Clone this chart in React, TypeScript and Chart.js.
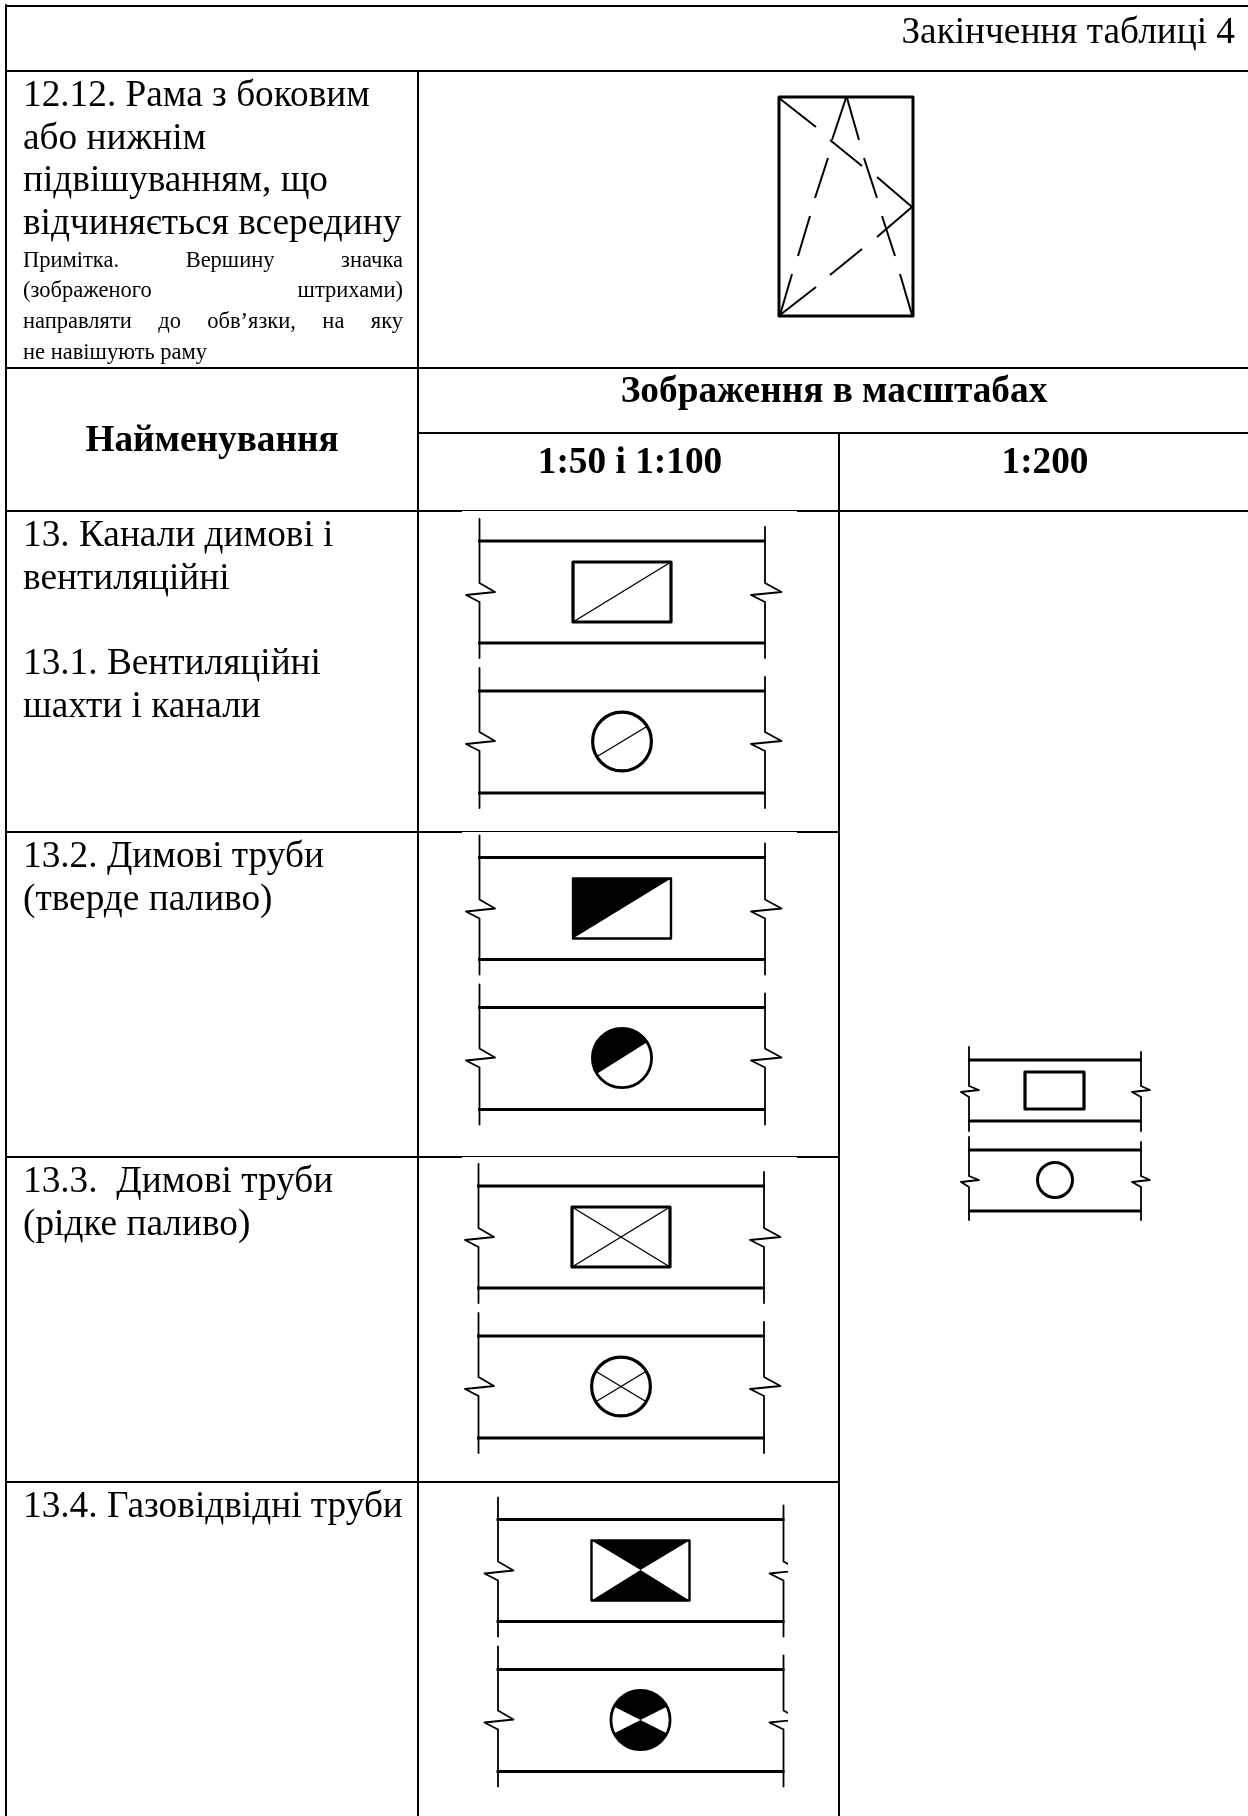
import React, { useEffect, useRef } from "react";
import { Chart, registerables } from "chart.js";

Chart.register(...registerables);

type P = [number, number];

// Table rules, in page units (x, y)
const heavyRules: P[][] = [
  [[5, 6], [1248, 6]],
  [[6, 5], [6, 1816]],
  [[5, 71], [1248, 71]],
  [[5, 368], [1248, 368]],
  [[418, 71], [418, 1816]],
  [[418, 433], [1248, 433]],
  [[839, 433], [839, 1482]],
  [[5, 511], [462, 511]],
  [[797, 511], [1248, 511]],
  [[5, 832], [462, 832]],
  [[797, 832], [839, 832]],
  [[5, 1157], [462, 1157]],
  [[797, 1157], [839, 1157]],
  [[5, 1482], [839, 1482]],
  [[839, 1482], [839, 1816]],
];
const lightRules: P[][] = [
  [[462, 510.5], [797, 510.5]],
  [[462, 831.5], [797, 831.5]],
  [[462, 1156.5], [797, 1156.5]],
];

// Window symbol 12.12
const windowFrame: P[] = [[779, 97], [913, 97], [913, 316], [779, 316], [779, 97]];
const windowDashes: P[][] = [
  [[779, 98], [816, 127]],
  [[830, 140], [862, 166]],
  [[877, 177], [912, 207]],
  [[912, 207], [877, 237]],
  [[862, 249], [830, 275]],
  [[816, 287], [780, 315]],
  [[846, 98], [832, 140]],
  [[828, 158], [815, 198]],
  [[810, 216], [798, 256]],
  [[792, 274], [780, 315]],
  [[847, 98], [859, 140]],
  [[864, 158], [877, 198]],
  [[882, 216], [895, 256]],
  [[900, 274], [912, 315]],
];

// Wall symbol (scale 1:50 and 1:100), as read on row 13.1
const wallSides: P[][] = [
  [[479.5, 519], [479.5, 583], [495, 592], [466, 595], [479.5, 602], [479.5, 658]],
  [[765, 527], [765, 583], [781.5, 592], [751, 595], [765, 602], [765, 658]],
  [[479.5, 668], [479.5, 732], [495, 741], [466, 744], [479.5, 751], [479.5, 808]],
  [[765, 677], [765, 732], [781.5, 741], [751, 744], [765, 751], [765, 808]],
];
const wallFaces: P[][] = [
  [[478, 541], [766, 541]],
  [[478, 643], [766, 643]],
  [[478, 691], [766, 691]],
  [[478, 793], [766, 793]],
];
const ductRect: P[] = [[573, 562], [671, 562], [671, 622], [573, 622], [573, 562]];
const ductCircle: P = [622, 741.5];
const ductRadius = 30;
const diagRect: P[] = [[573, 622], [671, 562]];
const diagRectBack: P[] = [[573, 562], [671, 622]];
const diagCircle: P[] = [[598, 756], [646, 727]];
const diagCircleBack: P[] = [[598, 727], [646, 756]];

// Placement of the four wall symbols
const row132: P = [0, 316.5];
const row133: P = [-1, 645];
const row134: P = [18.5, 978.5];

// Small wall symbol (scale 1:200)
const smallSides: P[][] = [
  [[969, 1047], [969, 1086], [979, 1090], [961, 1092], [969, 1097], [969, 1131]],
  [[1141, 1052], [1141, 1086], [1150, 1090], [1132, 1092], [1141, 1097], [1141, 1131]],
  [[969, 1137], [969, 1176], [979, 1180], [961, 1182], [969, 1187], [969, 1220]],
  [[1141, 1142], [1141, 1176], [1150, 1180], [1132, 1182], [1141, 1187], [1141, 1220]],
];
const smallFaces: P[][] = [
  [[968, 1060], [1142, 1060]],
  [[968, 1121], [1142, 1121]],
  [[968, 1150], [1142, 1150]],
  [[968, 1211], [1142, 1211]],
];
const smallRect: P[] = [[1025, 1072], [1084, 1072], [1084, 1109], [1025, 1109], [1025, 1072]];
const smallCircle: P = [1055, 1180];
const smallRadius = 18;

// Texts
const bodyLines: [string, number, number][] = [
  ["12.12. Рама з боковим", 23, 106],
  ["або нижнім", 23, 149],
  ["підвішуванням, що", 23, 191],
  ["відчиняється всередину", 23, 234],
  ["13. Канали димові і", 23, 546],
  ["вентиляційні", 23, 589],
  ["13.1. Вентиляційні", 23, 674],
  ["шахти і канали", 23, 717],
  ["13.2. Димові труби", 23, 867],
  ["(тверде паливо)", 23, 910],
  ["13.3.  Димові труби", 23, 1192],
  ["(рідке паливо)", 23, 1235],
  ["13.4. Газовідвідні труби", 23, 1517],
];
const noteLines: [string, number, boolean][] = [
  ["Примітка. Вершину значка", 267, true],
  ["(зображеного штрихами)", 297, true],
  ["направляти до обв’язки, на яку", 328, true],
  ["не навішують раму", 359, false],
];
const headLines: [string, number, number][] = [
  ["Зображення в масштабах", 834, 402],
  ["Найменування", 212, 451],
  ["1:50 і 1:100", 630, 473],
  ["1:200", 1045, 473],
];
const tableTitle = "Закінчення таблиці 4";

const moved = (pts: P[], d: P): P[] => pts.map(([x, y]) => [x + d[0], y + d[1]] as P);
const pairs = (pts: P[]) => pts.map(([x, y]) => ({ x, y }));

const SERIF = '"Liberation Serif"';

const fillsPlugin = {
  id: "fills",
  beforeDatasetsDraw(chart: any) {
    const { ctx, scales } = chart;
    const X = (v: number) => scales.x.getPixelForValue(v);
    const Y = (v: number) => scales.y.getPixelForValue(v);
    const poly = (pts: P[]) => {
      ctx.beginPath();
      pts.forEach(([x, y], i) => (i ? ctx.lineTo(X(x), Y(y)) : ctx.moveTo(X(x), Y(y))));
      ctx.closePath();
      ctx.fill();
    };
    const sector = (c: P, r: number, a0: number, a1: number, wedge: boolean) => {
      ctx.beginPath();
      if (wedge) ctx.moveTo(X(c[0]), Y(c[1]));
      ctx.arc(X(c[0]), Y(c[1]), X(r) - X(0), (a0 * Math.PI) / 180, (a1 * Math.PI) / 180);
      ctx.closePath();
      ctx.fill();
    };
    ctx.save();
    ctx.fillStyle = "#000";
    // 13.2: half filled
    poly(moved([[573, 562], [671, 562], [573, 622]], row132));
    sector(moved([ductCircle], row132)[0], ductRadius, 148, 328, false);
    // 13.4: two filled triangles / sectors
    poly(moved([[573, 562], [671, 562], [622, 591.5]], row134));
    poly(moved([[573, 622], [671, 622], [622, 591.5]], row134));
    const cc4 = moved([ductCircle], row134)[0];
    sector(cc4, ductRadius, 207, 333, true);
    sector(cc4, ductRadius, 27, 153, true);
    ctx.restore();
  },
};

const textPlugin = {
  id: "tableText",
  afterDatasetsDraw(chart: any) {
    const { ctx, scales } = chart;
    const X = (v: number) => scales.x.getPixelForValue(v);
    const Y = (v: number) => scales.y.getPixelForValue(v);
    ctx.save();
    ctx.fillStyle = "#000";
    ctx.textBaseline = "alphabetic";
    ctx.textAlign = "left";
    ctx.font = `37.3px ${SERIF}`;
    bodyLines.forEach(([t, x, y]) => ctx.fillText(t, X(x), Y(y)));
    ctx.textAlign = "right";
    ctx.fillText(tableTitle, X(1235), Y(43));
    ctx.textAlign = "center";
    ctx.font = `bold 37.3px ${SERIF}`;
    headLines.forEach(([t, x, y]) => ctx.fillText(t, X(x), Y(y)));
    ctx.textAlign = "left";
    ctx.font = `22.5px ${SERIF}`;
    noteLines.forEach(([t, y, justify]) => {
      ctx.wordSpacing = "0px";
      const spaces = t.split(" ").length - 1;
      const extra = justify ? (X(403) - X(23) - ctx.measureText(t).width) / spaces : 0;
      ctx.wordSpacing = `${extra}px`;
      ctx.fillText(t, X(23), Y(y));
    });
    ctx.wordSpacing = "0px";
    ctx.restore();
  },
};

function line(pts: P[], width: number, extra: object = {}) {
  return {
    data: pairs(pts),
    showLine: true,
    borderColor: "#000",
    borderWidth: width,
    pointRadius: 0,
    fill: false,
    tension: 0,
    borderJoinStyle: "round",
    borderCapStyle: "butt",
    ...extra,
  };
}

function ring(c: P, r: number, width: number) {
  return {
    data: pairs([c]),
    showLine: false,
    pointRadius: r - width / 2,
    pointBorderWidth: width,
    pointBorderColor: "#000",
    pointBackgroundColor: "rgba(0,0,0,0)",
    pointStyle: "circle",
  };
}

const clip134 = { left: false, top: false, bottom: false, right: -460 };

function wallGroup(d: P, extra: object = {}) {
  return [
    ...wallSides.map((s) => line(moved(s, d), 1.8, extra)),
    ...wallFaces.map((s) => line(moved(s, d), 3)),
  ];
}

function buildDatasets(): any[] {
  const origin: P = [0, 0];
  return [
    ...heavyRules.map((r) => line(r, 2)),
    ...lightRules.map((r) => line(r, 1)),
    line(windowFrame, 3, { borderCapStyle: "round" }),
    ...windowDashes.map((s) => line(s, 2)),
    ...wallGroup(origin),
    line(ductRect, 3.2, { borderCapStyle: "round" }),
    line(diagRect, 1.4),
    ring(ductCircle, ductRadius + 1, 3.2),
    line(diagCircle, 1.4),
    ...wallGroup(row132),
    line(moved(ductRect, row132), 2.4, { borderCapStyle: "round" }),
    ring(moved([ductCircle], row132)[0], ductRadius + 1, 2.8),
    ...wallGroup(row133),
    line(moved(ductRect, row133), 3.2, { borderCapStyle: "round" }),
    line(moved(diagRect, row133), 1.4),
    line(moved(diagRectBack, row133), 1.4),
    ring(moved([ductCircle], row133)[0], ductRadius + 1, 3.2),
    line(moved(diagCircle, row133), 1.4),
    line(moved(diagCircleBack, row133), 1.4),
    ...wallGroup(row134, { clip: clip134 }),
    line(moved(ductRect, row134), 2.4, { borderCapStyle: "round" }),
    ring(moved([ductCircle], row134)[0], ductRadius + 1, 2.8),
    ...smallSides.map((s) => line(s, 1.8)),
    ...smallFaces.map((s) => line(s, 3)),
    line(smallRect, 3.2, { borderCapStyle: "round" }),
    ring(smallCircle, smallRadius + 1, 3),
  ];
}

export default function App() {
  const ref = useRef<HTMLCanvasElement>(null);
  useEffect(() => {
    const chart = new Chart(ref.current as HTMLCanvasElement, {
      type: "scatter",
      data: { datasets: buildDatasets() },
      options: {
        animation: false,
        responsive: false,
        devicePixelRatio: 1,
        layout: { padding: 0, autoPadding: false },
        events: [],
        plugins: { legend: { display: false }, tooltip: { enabled: false }, title: { display: false } },
        scales: {
          x: { type: "linear", min: 0, max: 1248, display: false },
          y: { type: "linear", min: 0, max: 1816, reverse: true, display: false },
        },
      },
      plugins: [fillsPlugin, textPlugin],
    } as any);
    return () => chart.destroy();
  }, []);
  return (
    <div style={{ position: "absolute", left: 0, top: 0, width: 1248, height: 1816, background: "#fff" }}>
      <canvas ref={ref} width={1248} height={1816} style={{ display: "block" }} />
    </div>
  );
}
